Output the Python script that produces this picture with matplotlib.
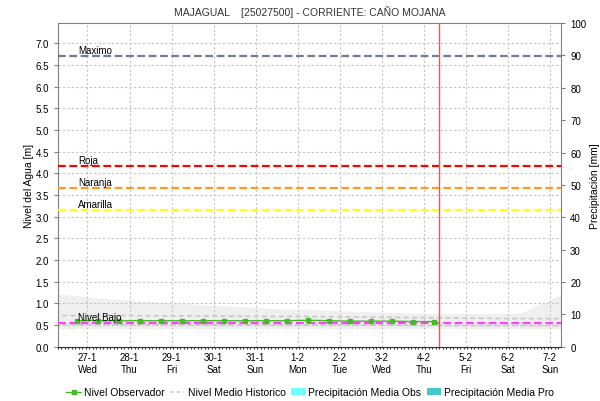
from datetime import datetime, timedelta

import matplotlib
matplotlib.use('Agg')
import matplotlib.pyplot as plt
import matplotlib.dates as mdates
from matplotlib.lines import Line2D
from matplotlib.patches import Patch

plt.rcParams['font.family'] = ['Liberation Sans', 'DejaVu Sans']

# ---- data ----
title = 'MAJAGUAL    [25027500] - CORRIENTE: CAÑO MOJANA'

# observed level, every 12 h
obs_start = datetime(2021, 1, 26, 18)
obs_level = [0.60, 0.60, 0.60, 0.60, 0.60, 0.60, 0.60, 0.60, 0.60,
             0.60, 0.60, 0.61, 0.60, 0.59, 0.59, 0.59, 0.58, 0.58]

# historical mean level (daily)
hist_days = [datetime(2021, 1, 26) + timedelta(days=i) for i in range(14)]
hist_mean = [0.72, 0.72, 0.72, 0.71, 0.71, 0.70, 0.70, 0.69, 0.68,
             0.67, 0.66, 0.65, 0.65, 0.65]
hist_low = [0.51, 0.51, 0.51, 0.51, 0.50, 0.50, 0.50, 0.50, 0.50,
            0.49, 0.49, 0.49, 0.49, 0.49]

# historical envelope (grey band)
band_times = [datetime(2021, 1, 26, 7), datetime(2021, 1, 26, 18),
              datetime(2021, 1, 27, 7), datetime(2021, 1, 27, 18),
              datetime(2021, 1, 28, 10), datetime(2021, 1, 29, 1),
              datetime(2021, 1, 30, 0), datetime(2021, 1, 30, 19),
              datetime(2021, 1, 31, 14), datetime(2021, 2, 1, 1),
              datetime(2021, 2, 2, 0), datetime(2021, 2, 4, 0),
              datetime(2021, 2, 6, 7), datetime(2021, 2, 7, 7)]
band_top = [1.22, 1.18, 1.12, 1.09, 1.05, 1.01, 0.95, 0.92, 0.87,
            0.87, 0.83, 0.77, 0.77, 1.21]
band_bottom = [0.42] * len(band_times)

# alert thresholds
thresholds = [('Maximo', 6.71, '#6f7b9c'),
              ('Roja', 4.17, '#ff0000'),
              ('Naranja', 3.66, '#ff9a1a'),
              ('Amarilla', 3.15, '#ffff1a'),
              ('Nivel Bajo', 0.55, '#ff40ff')]

now = datetime(2021, 2, 4, 8, 45)
x_start = datetime(2021, 1, 26, 7)
x_end = datetime(2021, 2, 7, 6, 30)
tick_days = [datetime(2021, 1, 27) + timedelta(days=i) for i in range(12)]
tick_labels = ['27-1\nWed', '28-1\nThu', '29-1\nFri', '30-1\nSat',
               '31-1\nSun', '1-2\nMon', '2-2\nTue', '3-2\nWed',
               '4-2\nThu', '5-2\nFri', '6-2\nSat', '7-2\nSun']
level_ticks = [i * 0.5 for i in range(15)]
rain_ticks = list(range(0, 101, 10))

# ---- figure ----
fig = plt.figure(figsize=(6.0, 4.02), dpi=100)
ax = fig.add_axes([0.0962, 0.135, 0.839, 0.805])

obs_times = [obs_start + timedelta(hours=12 * i) for i in range(len(obs_level))]

ax.fill_between(band_times, band_bottom, band_top, color='#efefef',
                linewidth=0, zorder=1)
ax.plot(hist_days, hist_mean, color='#c8c8c8', lw=1.2,
        dashes=(3, 2), zorder=2)
ax.plot(hist_days, hist_low, color='#c8c8c8', lw=1.2,
        dashes=(3, 2), zorder=2)

for name, val, col in thresholds:
    ax.axhline(val, color=col, lw=1.6, dashes=(3.5, 1.6), zorder=3)
    ax.text(0.04, val + 0.02, name, transform=ax.get_yaxis_transform(),
            fontsize=7, ha='left', va='bottom', zorder=5)

ax.plot(obs_times, obs_level, color='#44bb22', lw=1.0, marker='s',
        markersize=2.3, zorder=4)

ax.axvline(now, color='#ff5050', lw=1.0, zorder=4)

ax.set_xlim(x_start, x_end)
ax.set_ylim(0, 7.47)
ax.set_xticks(tick_days)
ax.set_xticklabels(tick_labels)
ax.set_yticks(level_ticks)
ax.set_yticklabels(['%.1f' % v for v in level_ticks])
ax.xaxis.set_minor_locator(mdates.HourLocator(interval=2))
ax.tick_params(axis='x', which='major', length=0, labelsize=7, pad=4)
ax.tick_params(axis='x', which='minor', length=1.5, width=0.8,
               color='#333333')
ax.tick_params(axis='y', length=3, labelsize=7, color='#808080')
ax.grid(True, color='#c4c4c4', lw=0.8, dashes=(2, 2))
for side in ['left', 'right', 'top']:
    ax.spines[side].set_color('#808080')
ax.spines['bottom'].set_color('#333333')
ax.set_ylabel('Nivel del Agua [m]', fontsize=7.5, labelpad=0.5)
ax.set_title(title, fontsize=7.5, color='#333333', pad=6)

ax2 = ax.twinx()
ax2.set_ylim(0, 100)
ax2.set_yticks(rain_ticks)
ax2.tick_params(axis='y', length=3, labelsize=7, color='#808080')
for side in ['left', 'right', 'top', 'bottom']:
    ax2.spines[side].set_visible(False)
ax2.set_ylabel('Precipitación [mm]', fontsize=7.5, labelpad=3)

handles = [Line2D([], [], color='#44bb22', lw=1.0, marker='s', markersize=2.3),
           Line2D([], [], color='#c8c8c8', lw=1.2, dashes=(2, 2)),
           Patch(facecolor='#70ffff', edgecolor='none'),
           Patch(facecolor='#44c8c8', edgecolor='none')]
labels = ['Nivel Observador', 'Nivel Medio Historico',
          'Precipitación Media Obs', 'Precipitación Media Pro']
fig.legend(handles, labels, loc='center', bbox_to_anchor=(0.517, 0.022),
           ncol=4, frameon=False, fontsize=7.5, handlelength=1.4,
           handletextpad=0.3, columnspacing=0.5)

fig.savefig('out.png', dpi=100)
